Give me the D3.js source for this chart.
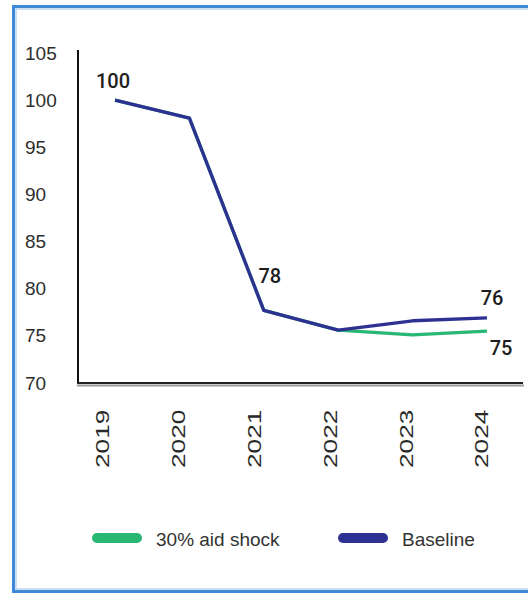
<!DOCTYPE html>
<html>
<head>
<meta charset="utf-8">
<script src="https://cdn.jsdelivr.net/npm/d3@7"></script>
<style>
  html, body { margin: 0; padding: 0; background: #fff; }
  svg { display: block; }
</style>
</head>
<body>
<svg id="chart" width="528" height="594"></svg>
<script>
// ---- data ----
const years = ["2019", "2020", "2021", "2022", "2023", "2024"];
const baseline = [100, 98.1, 77.7, 75.6, 76.6, 76.9];
const aidShock = [100, 98.1, 77.7, 75.6, 75.1, 75.5];
const yTicks = [70, 75, 80, 85, 90, 95, 100, 105];
const seriesNames = ["30% aid shock", "Baseline"];
const colors = ["#28b873", "#2e3192"];
// data labels: [series index, year index, text]
const labelSeries = [1, 1, 1, 0];
const labelYearIdx = [0, 2, 5, 5];
const labelText = ["100", "78", "76", "75"];
// label offsets (layout, not data)
const labelDx = [-2, 6, 5, 14];
const labelDy = [-12, -27, -13, 24];

const svg = d3.select("#chart");
const W = 528, H = 594;

// frame border
svg.append("rect").attr("x", 13.5).attr("y", 6.5).attr("width", W + 10).attr("height", 585)
  .attr("fill", "none").attr("stroke", "#3f8ad6").attr("stroke-width", 3);
svg.append("rect").attr("x", 16).attr("y", 9).attr("width", W + 10).attr("height", 580)
  .attr("fill", "none").attr("stroke", "#b9d5f0").attr("stroke-width", 1.5);

const x = d3.scalePoint().domain(years).range([115, 487]);
const xLab = d3.scalePoint().domain(years).range([102.5, 481.5]);
const y = d3.scaleLinear().domain([70, 105]).range([383, 53]);

const font = "'Liberation Sans', Arial, sans-serif";

// y axis ticks
const yAxis = svg.append("g").attr("transform", "translate(78,0)")
  .call(d3.axisLeft(y).tickValues(yTicks).tickSize(0).tickFormat(d3.format("d")));
yAxis.select(".domain").remove();
yAxis.selectAll("text")
  .attr("x", -53).attr("text-anchor", "start")
  .attr("font-family", font).attr("font-size", 19).attr("fill", "#2e2e2e");

// x axis labels
const xAxis = svg.append("g").attr("transform", "translate(0,468)")
  .call(d3.axisBottom(xLab).tickSize(0));
xAxis.select(".domain").remove();
xAxis.selectAll("text")
  .attr("y", 0).attr("dy", "0.35em")
  .attr("text-anchor", "start")
  .attr("transform", "rotate(-90) scale(1.42,1)")
  .attr("font-family", font).attr("font-size", 18.5).attr("fill", "#2a2a2a");

// axis lines
svg.append("line").attr("x1", 78).attr("x2", 78).attr("y1", 50).attr("y2", 384)
  .attr("stroke", "#111").attr("stroke-width", 2);
svg.append("line").attr("x1", 77).attr("x2", 524).attr("y1", 385.5).attr("y2", 385.5)
  .attr("stroke", "#9a9a9a").attr("stroke-width", 2);
svg.append("line").attr("x1", 77).attr("x2", 523).attr("y1", 383).attr("y2", 383)
  .attr("stroke", "#222").attr("stroke-width", 2);

// lines
const line = d3.line().x((d, i) => x(years[i])).y(d => y(d));
[aidShock, baseline].forEach((s, k) => {
  svg.append("path").datum(s).attr("d", line)
    .attr("fill", "none").attr("stroke", colors[k]).attr("stroke-width", 3.3)
    .attr("stroke-linejoin", "round").attr("stroke-linecap", "butt");
});

// data labels
const seriesData = [aidShock, baseline];
labelText.forEach((t, j) => {
  const s = seriesData[labelSeries[j]];
  const i = labelYearIdx[j];
  svg.append("text")
    .attr("x", x(years[i]) + labelDx[j])
    .attr("y", y(s[i]) + labelDy[j])
    .attr("text-anchor", "middle")
    .attr("font-family", "Roboto, " + font).attr("font-weight", 500)
    .attr("font-size", 20).attr("fill", "#1e1e1e")
    .text(t);
});

// legend
const legX = [92, 338];
seriesNames.forEach((n, k) => {
  svg.append("line").attr("x1", legX[k] + 5).attr("x2", legX[k] + 45)
    .attr("y1", 538).attr("y2", 538)
    .attr("stroke", colors[k]).attr("stroke-width", 10).attr("stroke-linecap", "round");
  svg.append("text").attr("x", legX[k] + 64).attr("y", 545.5)
    .attr("font-family", font).attr("font-size", 19).attr("fill", "#333")
    .text(n);
});
</script>
</body>
</html>
